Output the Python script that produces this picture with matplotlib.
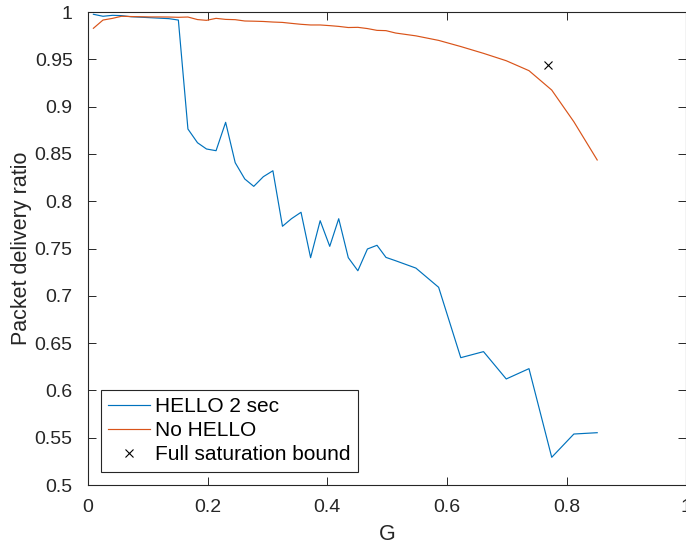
import matplotlib.pyplot as plt

plt.rcParams['font.family'] = ['Liberation Sans', 'DejaVu Sans']

# offered load G
g = [0.009, 0.025, 0.041, 0.056, 0.072, 0.088, 0.104, 0.119, 0.135, 0.151,
     0.167, 0.183, 0.198, 0.214, 0.230, 0.246, 0.262, 0.277, 0.293, 0.309,
     0.325, 0.340, 0.356, 0.372, 0.388, 0.404, 0.419, 0.435, 0.451, 0.467,
     0.483, 0.498, 0.514, 0.548, 0.586, 0.623, 0.661, 0.699, 0.737, 0.775,
     0.812, 0.851]

pdr_hello = [0.9976, 0.9955, 0.9965, 0.9962, 0.9950, 0.9945, 0.9940, 0.9935, 0.9930, 0.9915,
             0.8763, 0.8618, 0.8552, 0.8534, 0.8834, 0.8407, 0.8235, 0.8157, 0.8259, 0.8322,
             0.7735, 0.7815, 0.7883, 0.7403, 0.7794, 0.7523, 0.7815, 0.7403, 0.7265, 0.7495,
             0.7534, 0.7406, 0.7371, 0.7293, 0.7090, 0.6346, 0.6410, 0.6121, 0.6230, 0.5293,
             0.5539, 0.5553]

pdr_nohello = [0.9828, 0.9915, 0.9933, 0.9955, 0.9952, 0.9950, 0.9948, 0.9948, 0.9947, 0.9944,
               0.9947, 0.9920, 0.9912, 0.9933, 0.9922, 0.9919, 0.9905, 0.9903, 0.9900, 0.9894,
               0.9890, 0.9880, 0.9870, 0.9863, 0.9863, 0.9856, 0.9848, 0.9836, 0.9838, 0.9825,
               0.9806, 0.9803, 0.9778, 0.9748, 0.9700, 0.9635, 0.9563, 0.9485, 0.9380, 0.9175,
               0.8840, 0.8436]

bound_g = [0.769]
bound_pdr = [0.944]

fig = plt.figure(figsize=(6.86, 5.46), dpi=100)
ax = fig.add_axes([0.1283, 0.1117, 0.8722, 0.8663])

ax.plot(g, pdr_hello, color='#0072BD', lw=0.85, label='HELLO 2 sec')
ax.plot(g, pdr_nohello, color='#D95319', lw=0.85, label='No HELLO')
ax.plot(bound_g, bound_pdr, 'x', color='black', ms=6, mew=0.8, ls='none',
        label='Full saturation bound')

ax.set_xlim(0, 1)
ax.set_ylim(0.5, 1)
ax.set_xticks([0, 0.2, 0.4, 0.6, 0.8, 1])
ax.set_xticklabels(['0', '0.2', '0.4', '0.6', '0.8', '1'])
ax.set_yticks([0.5, 0.55, 0.6, 0.65, 0.7, 0.75, 0.8, 0.85, 0.9, 0.95, 1])
ax.set_yticklabels(['0.5', '0.55', '0.6', '0.65', '0.7', '0.75', '0.8', '0.85',
                    '0.9', '0.95', '1'])

ax.tick_params(direction='in', length=6, width=0.7, colors='#262626',
               labelsize=14, top=True, right=True)
ax.tick_params(axis='x', pad=10)
ax.tick_params(axis='y', pad=11)
for s in ax.spines.values():
    s.set_color('#262626')
    s.set_linewidth(0.8)

ax.set_xlabel('G', fontsize=15.5, color='#262626', labelpad=6)
ax.set_ylabel('Packet delivery ratio', fontsize=15.5, color='#262626', labelpad=2)

leg = ax.legend(loc='lower left', bbox_to_anchor=(0.021, 0.028), borderaxespad=0,
                fontsize=15, fancybox=False, framealpha=1, edgecolor='#262626',
                handlelength=2.0, handletextpad=0.25, labelspacing=0.25,
                borderpad=0.35)
leg.get_frame().set_linewidth(0.8)
for t in leg.get_texts():
    t.set_color('black')

fig.savefig('out.png', dpi=100)
